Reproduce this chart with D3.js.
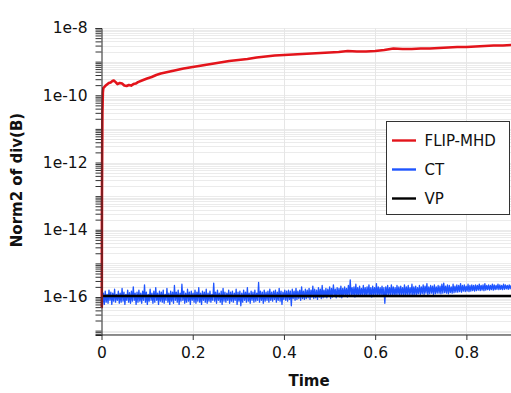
<!DOCTYPE html>
<html>
<head>
<meta charset="utf-8">
<script src="https://cdn.jsdelivr.net/npm/d3@7"></script>
<style>
  body { margin: 0; background: #fff; }
  svg { display: block; font-family: "DejaVu Sans", sans-serif; }
</style>
</head>
<body>
<svg id="chart" width="511" height="393"></svg>
<script>
// FLIP-MHD: time and norm2 of div(B)
const flipTime = [0, 0.0006, 0.001, 0.0015, 0.002, 0.003, 0.004, 0.008, 0.012, 0.016, 0.02, 0.024,
  0.027, 0.031, 0.035, 0.04, 0.045, 0.05, 0.055, 0.06, 0.065, 0.07, 0.075, 0.08, 0.09, 0.1,
  0.11, 0.12, 0.13, 0.14, 0.15, 0.165, 0.18, 0.2, 0.22, 0.24, 0.26, 0.28, 0.3, 0.32, 0.34,
  0.36, 0.37, 0.38, 0.4, 0.42, 0.44, 0.46, 0.48, 0.5, 0.52, 0.54, 0.56, 0.58, 0.6, 0.62,
  0.64, 0.66, 0.68, 0.7, 0.72, 0.74, 0.76, 0.78, 0.8, 0.82, 0.84, 0.86, 0.88, 0.9];
const flipValue = [5e-17, 5e-17, 1e-13, 2e-12, 3e-11, 1.2e-10, 1.64e-10, 1.88e-10, 2.09e-10, 2.31e-10, 2.4e-10, 2.65e-10,
  2.75e-10, 2.46e-10, 2.15e-10, 2.31e-10, 2.23e-10, 1.94e-10, 1.88e-10, 2.02e-10, 1.94e-10, 2.15e-10, 2.23e-10, 2.46e-10, 2.8e-10, 3.15e-10,
  3.49e-10, 4.0e-10, 4.45e-10, 4.75e-10, 5.1e-10, 5.65e-10, 6.25e-10, 6.9e-10, 7.7e-10, 8.5e-10, 9.4e-10, 1.04e-9, 1.12e-9, 1.2e-9, 1.33e-9,
  1.42e-9, 1.47e-9, 1.52e-9, 1.58e-9, 1.63e-9, 1.68e-9, 1.74e-9, 1.8e-9, 1.87e-9, 1.93e-9, 2.07e-9, 2.0e-9, 2.0e-9, 2.07e-9, 2.22e-9,
  2.45e-9, 2.37e-9, 2.37e-9, 2.45e-9, 2.45e-9, 2.54e-9, 2.63e-9, 2.72e-9, 2.72e-9, 2.82e-9, 2.91e-9, 3.02e-9, 3.02e-9, 3.12e-9];

// CT: samples evenly spaced from t = 0 to t = 0.9, in units of 1e-16
const ctStart = 0;
const ctEnd = 0.9;
const ctUnit = 1e-16;
const ctValue = [
  0.5, 0.55, 1.3, 0.6, 1.5, 0.7, 1.2, 0.65, 1.6, 0.8, 1.4, 0.6, 1.3, 0.75, 1.7, 0.7, 1.2, 0.8, 1.5, 0.65,
  1.3, 0.7, 1.8, 0.75, 1.4, 0.6, 1.2, 0.8, 1.6, 0.7, 1.35, 0.65, 1.5, 0.75, 2.0, 0.8, 1.3, 0.6, 1.4, 0.7,
  1.6, 0.75, 1.3, 0.65, 1.5, 0.8, 2.3, 0.7, 1.4, 0.6, 1.2, 0.75, 1.7, 0.8, 1.3, 0.65, 1.5, 0.7, 1.9, 0.8,
  1.3, 0.6, 1.5, 0.75, 1.4, 0.7, 1.6, 0.65, 1.2, 0.8, 1.8, 0.7, 1.3, 0.6, 1.5, 0.75, 1.4, 0.65, 2.2, 0.8,
  1.4, 0.7, 1.6, 0.6, 1.3, 0.75, 2.4, 0.8, 1.5, 0.65, 1.3, 0.7, 1.7, 0.75, 1.4, 0.6, 1.5, 0.8, 1.3, 0.7,
  1.6, 0.65, 1.4, 0.75, 1.9, 0.7, 1.3, 0.6, 1.5, 0.8, 1.4, 0.7, 1.7, 0.65, 1.3, 0.75, 1.5, 0.7, 1.2, 0.8,
  2.6, 0.75, 1.4, 0.65, 1.6, 0.8, 1.3, 0.7, 1.5, 0.6, 1.8, 0.75, 1.4, 0.7, 1.3, 0.8, 1.6, 0.65, 1.4, 0.75,
  1.5, 0.7, 1.3, 0.8, 1.7, 0.6, 1.4, 0.75, 1.5, 0.55, 1.3, 0.7, 1.6, 0.8, 1.4, 0.7, 1.9, 0.75, 1.3, 0.65,
  1.5, 0.8, 1.4, 0.7, 1.6, 0.75, 1.3, 0.8, 2.7, 0.7, 1.5, 0.8, 1.4, 0.65, 1.6, 0.75, 1.4, 0.8, 1.5, 0.7,
  1.7, 0.8, 1.4, 0.75, 1.5, 0.85, 1.6, 0.7, 1.4, 0.8, 1.8, 0.75, 1.5, 0.6, 1.4, 0.85, 1.6, 0.8, 1.5, 0.75,
  1.6, 0.85, 1.5, 0.55, 1.7, 0.9, 1.5, 0.8, 1.8, 0.85, 1.5, 0.9, 1.6, 0.8, 2.0, 0.9, 1.5, 0.85, 1.7, 0.9,
  1.6, 0.95, 1.8, 0.85, 1.6, 1.0, 2.1, 0.9, 1.7, 0.95, 1.6, 0.85, 1.9, 1.0, 1.7, 0.9, 2.2, 0.95, 1.6, 1.0,
  1.8, 0.95, 1.7, 1.05, 2.0, 0.9, 1.8, 1.0, 2.3, 1.05, 1.7, 0.95, 1.9, 1.1, 1.8, 1.0, 2.1, 0.95, 1.8, 1.05,
  2.0, 1.1, 1.8, 1.0, 2.2, 1.1, 3.2, 1.05, 1.9, 1.1, 2.0, 1.0, 2.4, 1.1, 1.9, 1.05, 2.1, 1.1, 1.8, 1.15,
  2.2, 1.1, 1.9, 1.05, 2.0, 1.15, 2.3, 1.1, 1.9, 1.0, 2.1, 1.15, 1.9, 1.1, 2.5, 1.05, 2.0, 1.15, 1.9, 1.1,
  2.1, 1.1, 1.9, 0.65, 2.0, 1.15, 2.2, 1.1, 1.9, 1.2, 2.3, 1.1, 2.0, 1.15, 1.9, 1.1, 2.2, 1.2, 2.0, 1.1,
  2.1, 1.2, 1.9, 1.15, 2.3, 1.1, 2.0, 1.2, 2.2, 1.15, 1.9, 1.2, 2.4, 1.1, 2.0, 1.2, 2.1, 1.15, 1.9, 1.25,
  2.2, 1.2, 2.0, 1.25, 2.3, 1.2, 2.1, 1.3, 2.5, 1.2, 2.0, 1.25, 2.2, 1.3, 2.1, 1.2, 2.3, 1.25, 2.0, 1.3,
  2.2, 1.3, 2.1, 1.25, 2.4, 1.3, 2.6, 1.35, 2.1, 1.3, 2.3, 1.25, 2.2, 1.35, 2.0, 1.3, 2.4, 1.35, 2.1, 1.4,
  2.3, 1.4, 2.2, 1.45, 2.5, 1.4, 2.2, 1.5, 2.3, 1.45, 2.1, 1.5, 2.4, 1.45, 2.2, 1.5, 2.3, 1.55, 2.2, 1.5,
  2.3, 1.55, 2.2, 1.6, 2.4, 1.55, 2.2, 1.6, 2.3, 1.55, 2.5, 1.6, 2.2, 1.65, 2.3, 1.6, 2.2, 1.65, 2.4, 1.6,
  2.3, 1.65, 2.2, 1.7, 2.4, 1.65, 2.3, 1.7, 2.2, 1.65, 2.4, 1.7, 2.3, 1.75, 2.2, 1.7, 2.3, 1.75, 2.2, 1.8];

// VP
const vpTime = [0, 0.3, 0.6, 0.9];
const vpValue = [1.07e-16, 1.07e-16, 1.07e-16, 1.07e-16];

const seriesNames = ["FLIP-MHD", "CT", "VP"];
const seriesColors = ["#e3141b", "#1f55ff", "#000000"];
const xTickValues = [0, 0.2, 0.4, 0.6, 0.8];
const yLabelExponents = [-8, -10, -12, -14, -16];

const svg = d3.select("#chart");
const x = d3.scaleLinear().domain([0, 0.9]).range([101.5, 512]);
const y = d3.scaleLog().domain([Math.pow(10, -17.13), 1e-8]).range([335, 28]);

const flipData = flipTime.map((t, i) => [t, flipValue[i]]);
const ctStep = (ctEnd - ctStart) / (ctValue.length - 1);
const ctData = ctValue.map((v, i) => [ctStart + i * ctStep, v * ctUnit]);
const vpData = vpTime.map((t, i) => [t, vpValue[i]]);

const yTicks = y.ticks(40);

// grid
const grid = svg.append("g");
grid.selectAll("line.h")
  .data(yTicks)
  .enter()
  .append("line")
  .attr("x1", x(0))
  .attr("x2", 511)
  .attr("y1", (d) => Math.round(y(d)) + 0.5)
  .attr("y2", (d) => Math.round(y(d)) + 0.5)
  .attr("stroke", "#ebebeb");
grid.selectAll("line.v")
  .data(xTickValues.slice(1))
  .enter()
  .append("line")
  .attr("x1", (d) => Math.round(x(d)) + 0.5)
  .attr("x2", (d) => Math.round(x(d)) + 0.5)
  .attr("y1", y.range()[1])
  .attr("y2", y.range()[0])
  .attr("stroke", "#e6e6e6");

// series
const line = d3.line().x((d) => x(d[0])).y((d) => y(d[1]));
const plot = svg.append("g");
plot.append("path")
  .attr("fill", "none")
  .attr("stroke", seriesColors[1])
  .attr("stroke-width", 1.3)
  .attr("stroke-linejoin", "round")
  .attr("d", line(ctData));
plot.append("path")
  .attr("fill", "none")
  .attr("stroke", seriesColors[2])
  .attr("stroke-width", 2.4)
  .attr("d", line(vpData));
plot.append("path")
  .attr("fill", "none")
  .attr("stroke", seriesColors[0])
  .attr("stroke-width", 2.6)
  .attr("stroke-linejoin", "round")
  .attr("d", line(flipData));

// axes
const labelled = new Set(yLabelExponents.map((e) => Math.round(e)));
const yAxis = svg.append("g")
  .attr("transform", `translate(${x(0)},0)`)
  .call(
    d3.axisLeft(y)
      .tickValues(yTicks)
      .tickSize(6)
      .tickPadding(8)
      .tickFormat((d) => {
        const e = Math.log10(d);
        return Math.abs(e - Math.round(e)) < 1e-9 && labelled.has(Math.round(e))
          ? `1e${Math.round(e)}`
          : "";
      }),
  );
const xAxis = svg.append("g")
  .attr("transform", `translate(0,${y.range()[0]})`)
  .call(
    d3.axisBottom(x)
      .tickValues(xTickValues)
      .tickSize(5)
      .tickPadding(7)
      .tickFormat((d) => (d === 0 ? "0" : d3.format(".1f")(d))),
  );
[yAxis, xAxis].forEach((a) => {
  a.select(".domain").attr("stroke", "#222");
  a.selectAll(".tick line").attr("stroke", "#333");
  a.selectAll(".tick text")
    .attr("fill", "#111")
    .attr("font-size", 15.5)
    .attr("font-family", '"DejaVu Sans", sans-serif');
});
xAxis.select(".domain").attr("d", `M${x(0)},0H511`);

// titles
svg.append("text")
  .attr("x", 309)
  .attr("y", 381)
  .attr("text-anchor", "middle")
  .attr("dominant-baseline", "central")
  .attr("font-weight", "bold")
  .attr("font-size", 15)
  .attr("fill", "#111")
  .text("Time");
svg.append("text")
  .attr("transform", "translate(17,180)rotate(-90)")
  .attr("text-anchor", "middle")
  .attr("dominant-baseline", "central")
  .attr("font-weight", "bold")
  .attr("font-size", 15)
  .attr("fill", "#111")
  .text("Norm2 of div(B)");

// legend
const legend = svg.append("g").attr("transform", "translate(386.5,121.5)");
legend.append("rect")
  .attr("width", 123)
  .attr("height", 93)
  .attr("fill", "#fff")
  .attr("stroke", "#333");
const entries = legend.selectAll("g")
  .data(seriesNames)
  .enter()
  .append("g")
  .attr("transform", (d, i) => `translate(0,${19 + i * 29})`);
entries.append("line")
  .attr("x1", 5.5)
  .attr("x2", 29.5)
  .attr("stroke", (d, i) => seriesColors[i])
  .attr("stroke-width", 2.4);
entries.append("text")
  .attr("x", 38)
  .attr("dominant-baseline", "central")
  .attr("font-size", 15)
  .attr("fill", "#111")
  .text((d) => d);
</script>
</body>
</html>
